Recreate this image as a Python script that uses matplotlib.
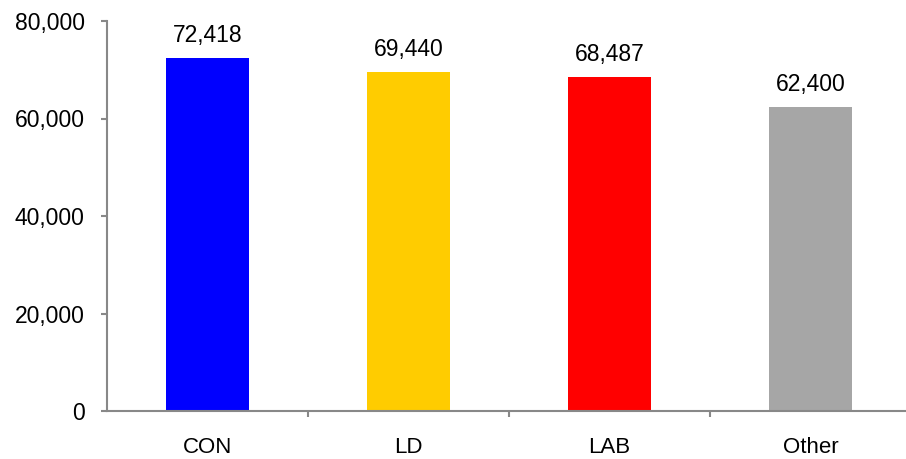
import numpy as np
import matplotlib.pyplot as plt

plt.rcParams['font.family'] = ['Liberation Sans', 'DejaVu Sans']

categories = ["CON", "LD", "LAB", "Other"]
values = [72418, 69440, 68487, 62400]
colors = ["#0000ff", "#ffcc00", "#ff0000", "#a6a6a6"]
yticks = [0, 20000, 40000, 60000, 80000]

fig = plt.figure(figsize=(9.06, 4.59), dpi=100)
ax = fig.add_axes([107/906, 48/459, 804/906, 390/459])

x = np.arange(len(categories))
bars = ax.bar(x, values, width=0.41, color=colors, zorder=2)

for xi, v in zip(x, values):
    ax.annotate("{:,}".format(v), (xi, v), xytext=(0, 8), textcoords="offset points",
                ha="center", va="bottom", fontsize=16.5)

ax.set_xlim(-0.5, len(categories) - 0.5)
ax.set_ylim(0, 80000)
ax.set_yticks(yticks)
ax.set_yticklabels(["{:,}".format(t) for t in yticks], fontsize=16.5)

# categories labelled in the middle, tick marks between them
ax.set_xticks(x)
ax.set_xticklabels(categories, fontsize=16)
ax.tick_params(axis="x", length=0, pad=18.5)
ax.set_xticks(x[:-1] + 0.5, minor=True)
ax.tick_params(axis="x", which="minor", length=4.5, color="#888888", width=1.5)
ax.tick_params(axis="y", length=4.5, color="#888888", width=1.5, pad=11.5)

for side in ["top", "right"]:
    ax.spines[side].set_visible(False)
for side in ["left", "bottom"]:
    ax.spines[side].set_color("#888888")
    ax.spines[side].set_linewidth(1.5)

fig.savefig("out.png", dpi=100)
